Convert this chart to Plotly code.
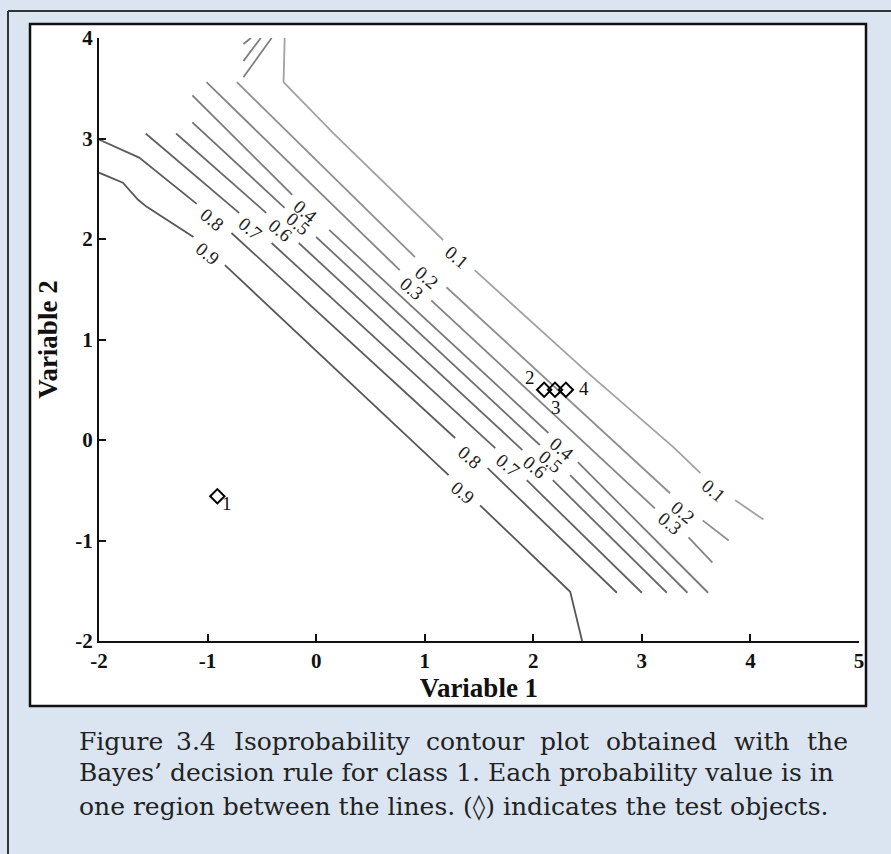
import plotly.graph_objects as go

# ---- contour polylines (Variable 1, Variable 2); None breaks the line where a label sits ----
c09_x = [-2.00, -1.78, -1.64, -1.56, -1.13, None, -0.84, 1.22, None, 1.51, 2.34, 2.45]
c09_y = [2.66, 2.56, 2.39, 2.32, 2.02, None, 1.74, -0.35, None, -0.65, -1.51, -2.00]

c08_x = [-2.00, -1.63, -1.10, None, -0.78, 1.28, None, 1.58, 2.77]
c08_y = [2.99, 2.81, 2.35, None, 2.06, 0.02, None, -0.28, -1.52]

c07_x = [-1.57, -0.71, None, -0.41, 1.65, None, 1.94, 3.00]
c07_y = [3.05, 2.26, None, 1.96, -0.08, None, -0.40, -1.52]

c06_x = [-1.29, -0.46, None, -0.16, 1.90, None, 2.18, 3.23]
c06_y = [3.05, 2.26, None, 1.96, -0.10, None, -0.40, -1.52]

c05_x = [-1.14, -0.29, None, 0.00, 2.06, None, 2.34, 3.42]
c05_y = [3.16, 2.31, None, 2.02, -0.05, None, -0.35, -1.52]

c04_x = [-1.14, -0.22, None, 0.12, 2.14, None, 2.41, 3.61]
c04_y = [3.43, 2.44, None, 2.09, 0.07, None, -0.22, -1.52]

c03_x = [-1.01, 0.77, None, 1.06, 3.12, None, 3.43, 3.65]
c03_y = [3.56, 1.69, None, 1.39, -0.68, None, -0.97, -1.22]

c02_x = [-0.73, 0.91, None, 1.20, 3.26, None, 3.56, 3.80]
c02_y = [3.56, 1.82, None, 1.52, -0.53, None, -0.80, -1.00]

c01_x = [-0.29, -0.30, 0.16, 1.17, None, 1.46, 2.50, 3.29, 3.54, None, 3.86, 4.12]
c01_y = [4.00, 3.56, 3.05, 1.99, None, 1.69, 0.67, -0.07, -0.33, None, -0.60, -0.79]

# small closed-off pieces near the upper edge
cap_x = [-0.67, -0.60, None, -0.67, -0.51, None, -0.67, -0.41]
cap_y = [3.94, 4.00, None, 3.77, 4.00, None, 3.61, 4.00]

levels = [0.9, 0.8, 0.7, 0.6, 0.5, 0.4, 0.3, 0.2, 0.1]
curves_x = [c09_x, c08_x, c07_x, c06_x, c05_x, c04_x, c03_x, c02_x, c01_x]
curves_y = [c09_y, c08_y, c07_y, c06_y, c05_y, c04_y, c03_y, c02_y, c01_y]
greys = ["#575757", "#5c5c5c", "#626262", "#696969", "#717171",
         "#7a7a7a", "#848484", "#8f8f8f", "#a2a2a2"]

# ---- in-line contour labels ----
label_text = ["0.9", "0.9", "0.8", "0.8", "0.7", "0.7", "0.6", "0.6", "0.5", "0.5",
              "0.4", "0.4", "0.3", "0.3", "0.2", "0.2", "0.1", "0.1"]
label_x = [-1.00, 1.35, -0.96, 1.42, -0.61, 1.77, -0.33, 2.02, -0.17, 2.16,
           -0.10, 2.26, 0.88, 3.26, 1.02, 3.38, 1.30, 3.66]
label_y = [1.86, -0.52, 2.19, -0.17, 2.10, -0.25, 2.08, -0.27, 2.15, -0.21,
           2.27, -0.08, 1.51, -0.83, 1.62, -0.72, 1.82, -0.50]

# ---- test objects ----
obj_names = ["1", "2", "3", "4"]
obj_x = [-0.91, 2.10, 2.20, 2.30]
obj_y = [-0.56, 0.50, 0.50, 0.50]
obj_label_shift = [(10, -7), (-14, 12), (1, -18), (18, 1)]

x_ticks = [-2, -1, 0, 1, 2, 3, 4, 5]
y_ticks = [-2, -1, 0, 1, 2, 3, 4]

# first caption line is set word by word so it spans the full text width
caption_words_1 = ["Figure", "3.4", "Isoprobability", "contour", "plot",
                   "obtained", "with", "the"]
caption_word_px_1 = [77, 174, 232, 424, 538, 604, 732, 805]
caption_line_2 = "Bayes\u2019 decision rule for class 1. Each probability value is in"
caption_line_3 = "one region between the lines. (\u25ca) indicates the test objects."

W, H = 891, 854
ML, MR, MT, MB = 99, 32, 38, 213
PW, PH = W - ML - MR, H - MT - MB


def fx(px):
    return (px - ML) / PW


def fy(py):
    return (H - MB - py) / PH


fig = go.Figure()

for lev, xs, ys, col in zip(levels, curves_x, curves_y, greys):
    fig.add_trace(go.Scatter(x=xs, y=ys, mode="lines", name=str(lev),
                             line=dict(color=col, width=1.8),
                             hoverinfo="skip", connectgaps=False))

fig.add_trace(go.Scatter(x=cap_x, y=cap_y, mode="lines",
                         line=dict(color="#7f7f7f", width=1.8),
                         hoverinfo="skip", connectgaps=False))

fig.add_trace(go.Scatter(x=obj_x, y=obj_y, mode="markers",
                         marker=dict(symbol="diamond-open", size=11,
                                     color="black", line=dict(width=2, color="black")),
                         hoverinfo="skip"))

annotations = []
for t, x, y in zip(label_text, label_x, label_y):
    annotations.append(dict(x=x, y=y, xref="x", yref="y", text=t, showarrow=False,
                            textangle=40, xanchor="center", yanchor="middle",
                            font=dict(family="Liberation Serif", size=19, color="#222222")))

for n, x, y, (dx, dy) in zip(obj_names, obj_x, obj_y, obj_label_shift):
    annotations.append(dict(x=x, y=y, xref="x", yref="y", text=n, showarrow=False,
                            xshift=dx, yshift=dy, xanchor="center", yanchor="middle",
                            font=dict(family="Liberation Serif", size=19, color="#111111")))

cap_font = dict(family="DejaVu Serif", size=25, color="#222222")
for w, px in zip(caption_words_1, caption_word_px_1):
    annotations.append(dict(x=fx(px), y=fy(741), xref="paper", yref="paper", text=w,
                            showarrow=False, xanchor="left", yanchor="middle", font=cap_font))
for txt, py in [(caption_line_2, 773), (caption_line_3, 806)]:
    annotations.append(dict(x=fx(77), y=fy(py), xref="paper", yref="paper", text=txt,
                            showarrow=False, xanchor="left", yanchor="middle", font=cap_font))

shapes = [
    # white panel holding the chart
    dict(type="rect", xref="paper", yref="paper", x0=fx(30), x1=fx(866), y0=fy(706), y1=fy(24),
         fillcolor="white", line=dict(color="#111111", width=2.5), layer="below"),
    # outer frame edges
    dict(type="line", xref="paper", yref="paper", x0=fx(8), x1=fx(8), y0=fy(11), y1=fy(900),
         line=dict(color="#333333", width=2), layer="below"),
    dict(type="line", xref="paper", yref="paper", x0=fx(8), x1=fx(950), y0=fy(11), y1=fy(11),
         line=dict(color="#333333", width=2), layer="below"),
]

tick_font = dict(family="Liberation Serif", size=21, color="#111111", weight="bold")
title_font = dict(family="Liberation Serif", size=27, color="#111111", weight="bold")

fig.update_layout(
    width=W, height=H,
    margin=dict(l=ML, r=MR, t=MT, b=MB, pad=0),
    paper_bgcolor="#dbe5f1",
    plot_bgcolor="white",
    showlegend=False,
    annotations=annotations,
    shapes=shapes,
    xaxis=dict(range=[-2, 5], tickvals=x_ticks, ticktext=[str(v) for v in x_ticks],
               ticks="inside", ticklen=7, tickwidth=1.5, tickcolor="#111111",
               showline=True, linecolor="#111111", linewidth=2, mirror=False,
               showgrid=False, zeroline=False, tickfont=tick_font,
               title=dict(text="Variable 1", font=title_font, standoff=6)),
    yaxis=dict(range=[-2, 4], tickvals=y_ticks, ticktext=[str(v) for v in y_ticks],
               ticks="inside", ticklen=7, tickwidth=1.5, tickcolor="#111111",
               showline=True, linecolor="#111111", linewidth=2, mirror=False,
               showgrid=False, zeroline=False, tickfont=tick_font,
               title=dict(text="Variable 2", font=title_font, standoff=10)),
)

fig.write_html("out.html")
